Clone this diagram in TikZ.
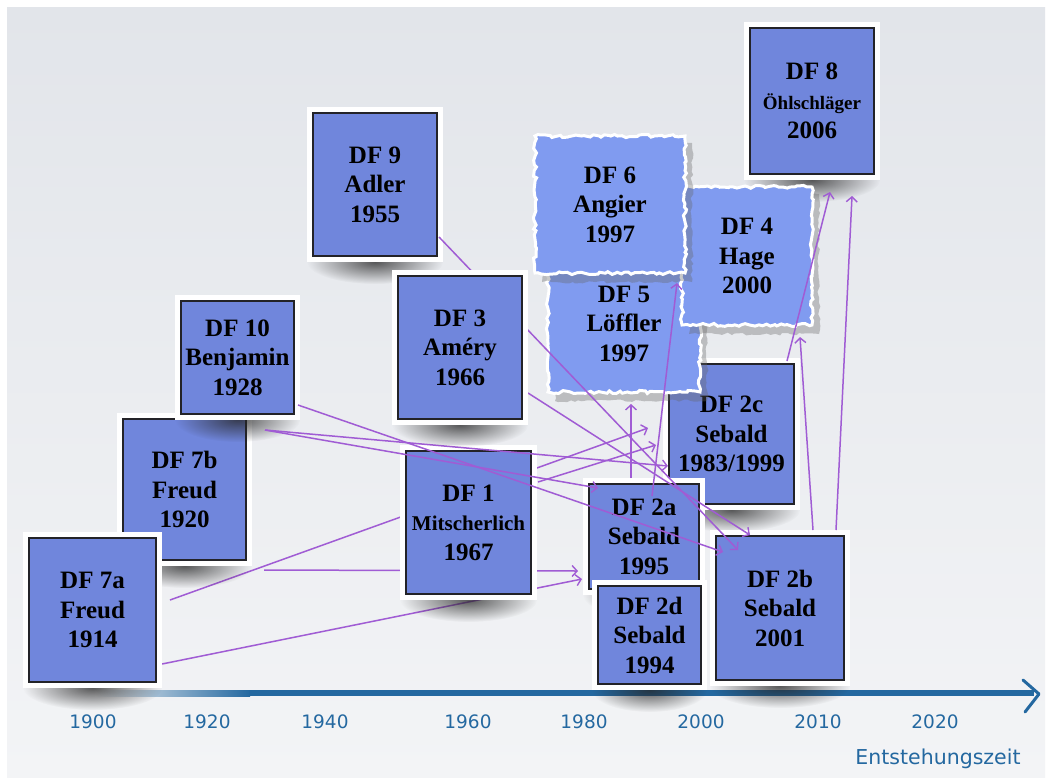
\documentclass[tikz,border=0pt]{standalone}
\usepackage{fontspec}
\setmainfont{Liberation Serif}
\newfontfamily\handfont{DejaVu Sans}
\usetikzlibrary{arrows.meta,decorations.pathmorphing,fadings,calc}

\definecolor{panelA}{RGB}{226,229,234}
\definecolor{panelB}{RGB}{243,244,246}
\definecolor{boxblue}{RGB}{112,134,220}
\definecolor{tornblue}{RGB}{128,155,240}
\definecolor{linkpurple}{RGB}{160,92,212}
\definecolor{axisblue}{RGB}{36,104,160}
\definecolor{framedark}{RGB}{35,35,40}

\tikzfading[name=softshadow, inner color=transparent!0, outer color=transparent!100]

\newcommand\boxfont{\bfseries\fontsize{25}{29.5}\selectfont}

\tikzset{
  photo/.style={rectangle, fill=boxblue, draw=framedark, line width=1.6pt,
    preaction={draw=white, line width=12pt}, align=center, inner sep=0pt, font=\boxfont},
  boxtext/.style={align=center, inner sep=0pt, font=\boxfont},
  link/.style={draw=linkpurple, line width=1.5pt,
    -{Straight Barb[length=5pt,width=11pt,line width=1.4pt]}},
  boxshadow/.style={fill=black!85, opacity=0.75, path fading=softshadow},
  torn/.style={fill=tornblue, draw=white, line width=3pt, decorate,
    decoration={random steps, segment length=3.5pt, amplitude=1.6pt}},
  tornshadow/.style={fill=black!60, opacity=0.35, decorate,
    decoration={random steps, segment length=4pt, amplitude=1.5pt}},
  yearlabel/.style={text=axisblue, font=\handfont\fontsize{18.5}{22}\selectfont},
}

\newcommand\photobox[6]{%
  \path[boxshadow] ({(#2+#4)/2},{#5}) ellipse [x radius={0.5*(#4-#2)}, y radius=22];
  \node[photo, minimum width={#4pt-#2pt-12pt}, minimum height={#5pt-#3pt-12pt}]
    (#1) at ({(#2+#4)/2},{(#3+#5)/2}) {#6};
}
\newcommand\tornbox[6]{%
  \path[tornshadow] (#2+7,#3+7) -- (#4+7,#3+7) -- (#4+7,#5+9) -- (#2+7,#5+9) -- cycle;
  \path[torn] (#2,#3) -- (#4,#3) -- (#4,#5) -- (#2,#5) -- cycle;
  \node[boxtext] (#1) at ({(#2+#4)/2},{(#3+#5)/2}) {#6};
}

\begin{document}
\begin{tikzpicture}[x=1pt, y=-1pt]
\pgfmathsetseed{42}
\useasboundingbox (0,0) rectangle (1051,782);
\fill[white] (0,0) rectangle (1051,782);
\shade[top color=panelA, bottom color=panelB] (7,7) rectangle (1045,777);

% time axis
\shade[left color=panelB, right color=axisblue] (95,690) rectangle (250,696);
\fill[axisblue] (249,690) rectangle (1034,696);
\draw[axisblue, line width=3pt, line cap=round, line join=round]
  (1023,680) -- (1039,694) -- (1025,712);

\foreach \yr/\xx in {1900/93,1920/207,1940/325,1960/468,1980/584,2000/701,2010/818,2020/935}
  \node[yearlabel] (y\yr) at (\xx,722) {\yr};
\node[yearlabel, font=\handfont\fontsize{20.5}{24}\selectfont] (axlabel) at (938,759) {Entstehungszeit};

% connector end points
\coordinate (s7aT) at (170,600);
\coordinate (s7aB) at (162,664);
\coordinate (s7b)  at (264,570);
\coordinate (s7bT) at (265,430);
\coordinate (s10)  at (298,405);
\coordinate (s9)   at (439,237);
\coordinate (s3)   at (528,393);
\coordinate (s1)   at (538,482);
\coordinate (s2aG) at (631,478);
\coordinate (s2aH) at (652,496);
\coordinate (s2bI) at (813,530);
\coordinate (s2c)  at (787,361);
\coordinate (s2bK) at (836,530);
\coordinate (tA) at (582,579);
\coordinate (tB) at (578,571);
\coordinate (tC) at (648,428);
\coordinate (tD) at (656,445);
\coordinate (tE) at (668,466);
\coordinate (tF) at (598,488);
\coordinate (tG) at (631,404);
\coordinate (tH) at (677,283);
\coordinate (tI) at (800,337);
\coordinate (tJ) at (830,192);
\coordinate (tK) at (852,196);
\coordinate (tP) at (723,552);
\coordinate (tQ) at (738,550);
\coordinate (tR) at (750,535);

% connectors behind the boxes
\draw[link] (s7aB) -- (tA);
\draw[link] (s7b) -- (tB);
\draw[link] (s7aT) -- (tC);

% framed boxes
\photobox{df9}{307}{107}{443}{262}{DF 9\\Adler\\1955}
\photobox{df7b}{117}{413}{252}{566}{DF 7b\\Freud\\1920}
\photobox{df10}{175}{295}{300}{420}{DF 10\\Benjamin\\1928}
\photobox{df7a}{23}{532}{162}{688}{DF 7a\\Freud\\1914}
\photobox{df1}{400}{445}{537}{600}{DF 1\\{\fontsize{21}{26}\selectfont Mitscherlich}\\1967}
\photobox{df2c}{663}{358}{800}{510}{DF 2c\\Sebald\\1983/1999}
\photobox{df2a}{583}{478}{705}{595}{DF 2a\\Sebald\\1995}
\photobox{df2d}{592}{580}{707}{690}{DF 2d\\Sebald\\1994}
\photobox{df2b}{710}{530}{850}{686}{DF 2b\\Sebald\\2001}
\photobox{df8}{744}{22}{880}{180}{DF 8\\{\fontsize{19}{24}\selectfont Öhlschläger}\\2006}

% torn paper boxes
\tornbox{df5}{548}{255}{700}{392}{DF 5\\Löffler\\1997}
\tornbox{df4}{682}{187}{812}{325}{DF 4\\Hage\\2000}
\tornbox{df6}{535}{136}{685}{273}{DF 6\\Angier\\1997}

% connectors over the boxes
\draw[link] (s10) -- (tP);
\draw[link] (s7bT) -- (tE);
\draw[link] (s7bT) -- (tF);
\draw[link] (s9) -- (tQ);
\draw[link] (s3) -- (tR);
\draw[link] (s1) -- (tD);
\draw[link] (s2aG) -- (tG);
\draw[link] (s2aH) -- (tH);
\draw[link] (s2bI) -- (tI);
\draw[link] (s2c) -- (tJ);
\draw[link] (s2bK) -- (tK);

\photobox{df3}{392}{270}{528}{425}{DF 3\\Améry\\1966}
\end{tikzpicture}
\end{document}
